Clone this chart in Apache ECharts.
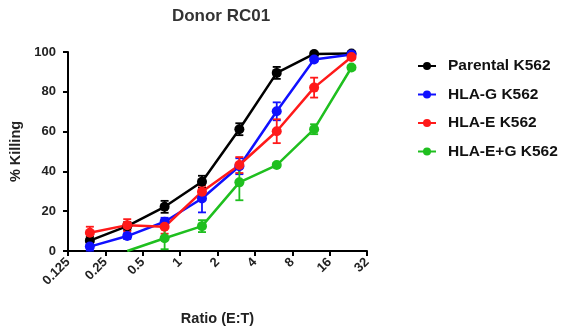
<!DOCTYPE html>
<html><head><meta charset="utf-8">
<script src="https://cdn.jsdelivr.net/npm/echarts@6/dist/echarts.min.js"></script>
<style>html,body{margin:0;padding:0;background:#fff}#c{width:566px;height:332px}</style>
</head><body><div id="c"></div>
<script>
const ratios = [0.1875, 0.375, 0.75, 1.5, 3, 6, 12, 24];
const xTicks = [0.125, 0.25, 0.5, 1, 2, 4, 8, 16, 32];
const seriesNames = ['Parental K562', 'HLA-G K562', 'HLA-E K562', 'HLA-E+G K562'];
const parental = [5.2, 12.5, 22.2, 34.8, 61.2, 89.5, 99, 99.2];
const parentalErr = [2, 2, 3, 3, 3, 3, 1, 1];
const hlaG = [2.2, 7.5, 14.7, 26.4, 42.6, 70.2, 96.2, 98.8];
const hlaGErr = [2, 1.5, 2, 7, 4, 4.5, 1, 1];
const hlaE = [9.2, 13, 12.2, 29.8, 43.2, 60.2, 82.1, 97.5];
const hlaEErr = [3, 3, 3.5, 3, 4, 6, 5, 1];
const hlaEG = [null, 0, 6.4, 12.5, 34.5, 43.2, 61.2, 92.2];
const hlaEGErr = [0, 0, 5.5, 3, 9, 1, 2.5, 1];
const colors = ['#000000', '#1010ff', '#ff1a1a', '#1fbf1f'];

const vals = [parental, hlaG, hlaE, hlaEG];
const errs = [parentalErr, hlaGErr, hlaEErr, hlaEGErr];

const chart = echarts.init(document.getElementById('c'), null, {renderer: 'canvas'});
const font = 'Liberation Sans, Arial, sans-serif';
const series = [];
vals.forEach((v, i) => {
  series.push({
    type: 'custom', name: seriesNames[i] + ' err', silent: true, z: 2,
    data: ratios.map((r, k) => v[k] == null ? null : [r, v[k], errs[i][k]]).filter(d => d),
    renderItem: function (params, api) {
      const x = api.value(0), y = api.value(1), e = api.value(2);
      if (!e) return null;
      const top = api.coord([x, y + e]);
      const bot = api.coord([x, Math.max(0, y - e)]);
      const hw = 4;
      const st = {stroke: colors[i], lineWidth: 1.8};
      return {type: 'group', children: [
        {type: 'line', shape: {x1: top[0], y1: top[1], x2: bot[0], y2: bot[1]}, style: st},
        {type: 'line', shape: {x1: top[0] - hw, y1: top[1], x2: top[0] + hw, y2: top[1]}, style: st},
        {type: 'line', shape: {x1: bot[0] - hw, y1: bot[1], x2: bot[0] + hw, y2: bot[1]}, style: st}
      ]};
    }
  });
  series.push({
    type: 'line', name: seriesNames[i], z: 3,
    data: ratios.map((r, k) => v[k] == null ? null : [r, v[k]]).filter(d => d),
    symbol: 'circle',
    symbolSize: function (d) { return d[1] <= 0 ? 0 : 10; },
    lineStyle: {width: 2.5, color: colors[i]},
    itemStyle: {color: colors[i]},
    clip: true
  });
});

chart.setOption({
  animation: false,
  backgroundColor: '#fff',
  title: {text: 'Donor RC01', left: 216, textAlign: 'center', top: 3,
    textStyle: {fontFamily: font, fontSize: 17, fontWeight: 'bold', color: '#333'}},
  legend: {
    orient: 'vertical', left: 412, top: 53, itemGap: 12.5, itemWidth: 18, itemHeight: 10,
    data: seriesNames,
    textStyle: {fontFamily: font, fontSize: 15.5, fontWeight: 'bold', color: '#111', padding: [0, 0, 0, 7]}
  },
  grid: {left: 68, right: 199, top: 52, bottom: 81, containLabel: false},
  xAxis: {
    type: 'log', logBase: 2, min: xTicks[0], max: xTicks[xTicks.length - 1],
    name: 'Ratio (E:T)', nameLocation: 'middle', nameGap: 60,
    nameTextStyle: {fontFamily: font, fontSize: 14.5, fontWeight: 'bold', color: '#222'},
    axisLine: {lineStyle: {color: '#000', width: 2}},
    axisTick: {show: true, length: 5, lineStyle: {color: '#000', width: 2}},
    splitLine: {show: false},
    axisLabel: {rotate: 45, fontFamily: font, fontSize: 13, fontWeight: 'bold', color: '#222', margin: 9,
      formatter: function (v) {
        let best = xTicks[0];
        xTicks.forEach(t => { if (Math.abs(Math.log2(t) - Math.log2(v)) < Math.abs(Math.log2(best) - Math.log2(v))) best = t; });
        return String(best);
      }}
  },
  yAxis: {
    type: 'value', min: 0, max: 100, interval: 20,
    name: '% Killing', nameLocation: 'middle', nameGap: 44, nameRotate: 90,
    nameTextStyle: {fontFamily: font, fontSize: 14.5, fontWeight: 'bold', color: '#222'},
    axisLine: {show: true, lineStyle: {color: '#000', width: 2}},
    axisTick: {show: true, length: 5, lineStyle: {color: '#000', width: 2}},
    splitLine: {show: false},
    axisLabel: {fontFamily: font, fontSize: 13, fontWeight: 'bold', color: '#222', margin: 12}
  },
  series: series
});
</script></body></html>
